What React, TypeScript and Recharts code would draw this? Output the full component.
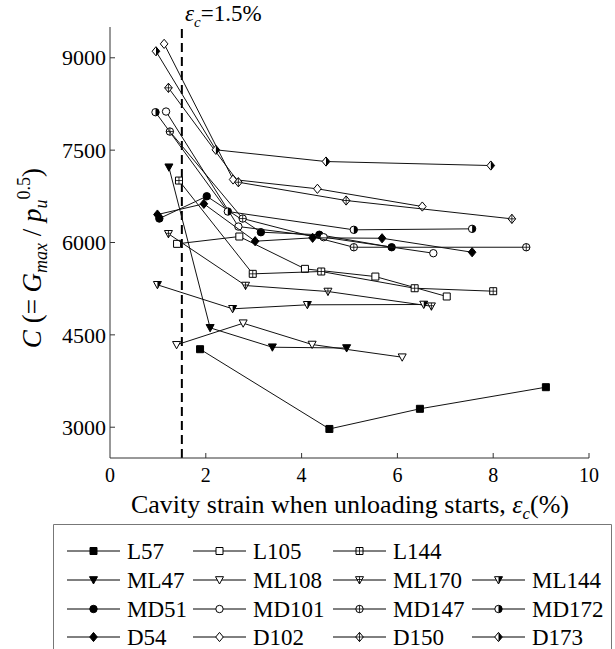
import React from "react"
import { ScatterChart, Scatter, XAxis, YAxis, ReferenceLine } from "recharts"

// cavity strain (%) , C value
const L57 = [[1.88, 4267], [4.58, 2972], [6.47, 3299], [9.1, 3650]]
const L105 = [[1.4, 5978], [2.7, 6097], [4.07, 5572], [5.54, 5447], [7.03, 5123]]
const L144 = [[1.44, 7006], [2.98, 5491], [4.41, 5529], [6.36, 5257], [8.0, 5209]]
const ML47 = [[1.23, 7222], [2.09, 4614], [3.39, 4299], [4.94, 4286]]
const ML108 = [[1.39, 4338], [2.78, 4689], [4.22, 4343], [6.1, 4137]]
const ML170 = [[1.22, 6141], [2.83, 5301], [4.55, 5204], [6.71, 4965]]
const ML144 = [[0.99, 5313], [2.56, 4923], [4.12, 4988], [6.55, 4993]]
const MD51 = [[1.03, 6389], [2.02, 6751], [3.15, 6167], [4.37, 6126], [5.88, 5923]]
const MD101 = [[1.17, 8127], [2.68, 6259], [4.46, 6086], [6.75, 5826]]
const MD147 = [[1.25, 7802], [2.77, 6389], [5.09, 5923], [8.69, 5923]]
const MD172 = [[0.95, 8116], [2.46, 6503], [5.09, 6206], [7.56, 6222]]
const D54 = [[0.99, 6454], [1.96, 6628], [3.03, 6021], [4.23, 6076], [5.68, 6069], [7.56, 5842]]
const D102 = [[1.13, 9226], [2.57, 7023], [4.33, 6872], [6.52, 6584]]
const D150 = [[1.22, 8512], [2.68, 6979], [4.93, 6682], [8.39, 6384]]
const D173 = [[0.96, 9106], [2.21, 7505], [4.51, 7315], [7.95, 7250]]

const xTicks = [0, 2, 4, 6, 8, 10]
const yTicks = [3000, 4500, 6000, 7500, 9000]

const series = [
  { name: "L57", pts: L57, shape: "sq", style: "fill" },
  { name: "L105", pts: L105, shape: "sq", style: "open" },
  { name: "L144", pts: L144, shape: "sq", style: "plus" },
  { name: "ML47", pts: ML47, shape: "tri", style: "fill" },
  { name: "ML108", pts: ML108, shape: "tri", style: "open" },
  { name: "ML170", pts: ML170, shape: "tri", style: "plus" },
  { name: "ML144", pts: ML144, shape: "tri", style: "half" },
  { name: "MD51", pts: MD51, shape: "ci", style: "fill" },
  { name: "MD101", pts: MD101, shape: "ci", style: "open" },
  { name: "MD147", pts: MD147, shape: "ci", style: "plus" },
  { name: "MD172", pts: MD172, shape: "ci", style: "half" },
  { name: "D54", pts: D54, shape: "di", style: "fill" },
  { name: "D102", pts: D102, shape: "di", style: "open" },
  { name: "D150", pts: D150, shape: "di", style: "plus" },
  { name: "D173", pts: D173, shape: "di", style: "half" },
]

const legendRows = [
  ["L57", "L105", "L144"],
  ["ML47", "ML108", "ML170", "ML144"],
  ["MD51", "MD101", "MD147", "MD172"],
  ["D54", "D102", "D150", "D173"],
]

const FONT = "'Liberation Serif', 'DejaVu Serif', serif"
const INK = "#000"
const txt = { fontFamily: FONT }

function Marker({ cx, cy, shape, style }: any) {
  if (cx == null || cy == null) return null
  const fill = style === "fill" ? INK : "#fff"
  let outline = ""
  let plus = ""
  let half = ""
  if (shape === "sq") {
    const s = 3.5
    outline = `M${cx - s},${cy - s}h${2 * s}v${2 * s}h${-2 * s}Z`
    plus = `M${cx},${cy - s}V${cy + s}M${cx - s},${cy}H${cx + s}`
    half = `M${cx},${cy - s}h${s}v${2 * s}h${-s}Z`
  } else if (shape === "tri") {
    outline = `M${cx - 4},${cy - 3.3}L${cx + 4},${cy - 3.3}L${cx},${cy + 4}Z`
    plus = `M${cx},${cy - 3.3}V${cy + 4}M${cx - 2.5},${cy - 0.5}H${cx + 2.5}`
    half = `M${cx},${cy - 3.3}L${cx + 4},${cy - 3.3}L${cx},${cy + 4}Z`
  } else if (shape === "ci") {
    const r = 3.7
    outline = `M${cx - r},${cy}A${r},${r} 0 1 1 ${cx + r},${cy}A${r},${r} 0 1 1 ${cx - r},${cy}Z`
    plus = `M${cx},${cy - r}V${cy + r}M${cx - r},${cy}H${cx + r}`
    half = `M${cx},${cy - r}A${r},${r} 0 0 1 ${cx},${cy + r}Z`
  } else {
    outline = `M${cx},${cy - 4.6}L${cx + 3.8},${cy}L${cx},${cy + 4.6}L${cx - 3.8},${cy}Z`
    plus = `M${cx},${cy - 4.6}V${cy + 4.6}M${cx - 3.8},${cy}H${cx + 3.8}`
    half = `M${cx},${cy - 4.6}L${cx + 3.8},${cy}L${cx},${cy + 4.6}Z`
  }
  return (
    <g>
      <path d={outline} fill={fill} stroke={INK} strokeWidth={1} />
      {style === "plus" && <path d={plus} fill="none" stroke={INK} strokeWidth={0.8} />}
      {style === "half" && <path d={half} fill={INK} stroke="none" />}
    </g>
  )
}

const YTick = (props: any) => {
  const { x, y, payload } = props
  return (
    <g>
      <line x1={x + 4} x2={x + 9} y1={y} y2={y} stroke="#333" />
      <text x={x} y={y} dy="0.35em" textAnchor="end" style={txt} fontSize={22} fill="#000">
        {payload.value}
      </text>
    </g>
  )
}

const XTick = (props: any) => {
  const { x, y, payload } = props
  return (
    <g>
      {payload.value !== 0 && <line x1={x} x2={x} y1={y - 10} y2={y - 15} stroke="#333" />}
      <text x={x} y={y} dy="0.71em" textAnchor="middle" style={txt} fontSize={20} fill="#000">
        {payload.value}
      </text>
    </g>
  )
}

function Legend() {
  const colX = [67, 193, 333, 472]
  const rowY = [551, 580, 609, 637]
  return (
    <g>
      <path d="M53.5,660V524.5H611.5V660" fill="none" stroke="#777" strokeWidth={1} />
      {legendRows.map((row, ri) =>
        row.map((name, ci) => {
          const s = series.find((d) => d.name === name)!
          const x0 = colX[ci]
          const y0 = rowY[ri]
          return (
            <g key={name}>
              <line x1={x0} x2={x0 + 53} y1={y0} y2={y0} stroke={INK} strokeWidth={1} />
              <Marker cx={x0 + 26.5} cy={y0} shape={s.shape} style={s.style} />
              <text x={x0 + 60} y={y0} dy="0.35em" style={txt} fontSize={23} fill="#000">
                {name}
              </text>
            </g>
          )
        })
      )}
    </g>
  )
}

export default function App() {
  return (
    <div style={{ position: "fixed", left: 0, top: 0, width: 615, height: 649, overflow: "hidden", background: "#fff", fontFamily: FONT }}>
      <ScatterChart width={615} height={649} margin={{ top: 27, right: 26, bottom: 0, left: 50 }}>
        <XAxis
          type="number"
          dataKey="x"
          domain={[0, 10]}
          ticks={xTicks}
          allowDataOverflow
          height={191}
          tickSize={0}
          tickMargin={10}
          tickLine={false}
          axisLine={{ stroke: "#333" }}
          tick={<XTick />}
        />
        <YAxis
          type="number"
          dataKey="c"
          domain={[2500, 9500]}
          ticks={yTicks}
          allowDataOverflow
          width={60}
          tickSize={0}
          tickMargin={4}
          tickLine={false}
          axisLine={{ stroke: "#333" }}
          tick={<YTick />}
        />
        <ReferenceLine x={1.5} stroke="#000" strokeWidth={2} strokeDasharray="9 5" />
        {series.map((s) => (
          <Scatter
            key={s.name}
            name={s.name}
            data={s.pts.map(([x, c]) => ({ x, c }))}
            line={{ stroke: "#111", strokeWidth: 1 }}
            shape={(p: any) => <Marker cx={p.cx} cy={p.cy} shape={s.shape} style={s.style} />}
            isAnimationActive={false}
          />
        ))}
      </ScatterChart>
      <svg width={615} height={649} style={{ position: "absolute", left: 0, top: 0, pointerEvents: "none" }}>
        <text x={185} y={21} style={txt} fontSize={23} fill="#000">
          <tspan fontStyle="italic">ε</tspan>
          <tspan fontStyle="italic" fontSize={15} dy={6}>c</tspan>
          <tspan dy={-6}>=1.5%</tspan>
        </text>
        <text x={350} y={513} textAnchor="middle" style={txt} fontSize={26} fill="#000">
          <tspan>Cavity strain when unloading starts, </tspan>
          <tspan fontStyle="italic">ε</tspan>
          <tspan fontStyle="italic" fontSize={17} dy={6}>c</tspan>
          <tspan dy={-6}>(%)</tspan>
        </text>
        <text
          x={41}
          y={258}
          transform="rotate(-90 41 258)"
          textAnchor="middle"
          style={txt}
          fontSize={27}
          fill="#000"
        >
          <tspan fontStyle="italic">C</tspan>
          <tspan> (= </tspan>
          <tspan fontStyle="italic">G</tspan>
          <tspan fontStyle="italic" fontSize={18} dy={6}>max</tspan>
          <tspan dy={-6}> / </tspan>
          <tspan fontStyle="italic">p</tspan>
          <tspan fontStyle="italic" fontSize={18} dy={6}>u</tspan>
          <tspan fontSize={18} dy={-17}>0.5</tspan>
          <tspan dy={11}>)</tspan>
        </text>
        <Legend />
      </svg>
    </div>
  )
}
